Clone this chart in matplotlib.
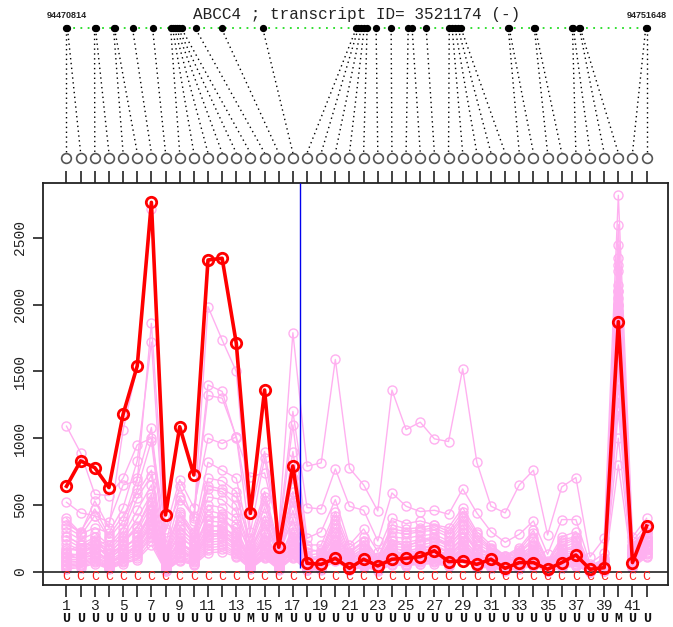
import matplotlib
matplotlib.use("Agg")
import matplotlib.pyplot as plt
import matplotlib.transforms as mtransforms

# ---------------- data ----------------
gene = "ABCC4"
transcript_id = "3521174"
strand = "(-)"
genome_start = 94470814
genome_end = 94751648

probe_index = list(range(1, 43))
probe_genome_pos = [
    94470814, 94471299, 94484395, 94484880, 94493610, 94494095, 94502826,
    94512527, 94521257, 94522227, 94523197, 94524167, 94525137, 94526592,
    94533383, 94545994, 94565880, 94610988, 94611958, 94613413, 94614868,
    94616323, 94620688, 94627964, 94636209, 94638149, 94644940, 94656095,
    94657551, 94659006, 94660461, 94661916, 94684712, 94685197, 94697323,
    94697808, 94715754, 94716239, 94719149, 94719634, 94751161, 94751648,
]
probe_type = ["U"] * 42
probe_type[13] = "M"
probe_type[15] = "M"
probe_type[39] = "M"
probe_class = ["C"] * 42

highlight_sample = [
    640, 830, 779, 630, 1179, 1541, 2767, 425, 1086, 724, 2335, 2348, 1711, 437,
    1361, 183, 792, 63, 55, 100, 25, 93, 43, 93, 100, 112, 157, 75, 80, 55,
    93, 25, 68, 68, 18, 68, 125, 18, 30, 1873, 68, 342,
]

other_samples = [
    [1090, 890, 580, 570, 700, 950, 1000, 320, 690, 480, 1000, 960, 1010, 430, 900, 320, 1790, 790, 815, 1590, 775, 650, 455, 1360, 1065, 1120, 995, 975, 1520, 820, 490, 440, 650, 760, 275, 635, 705, 110, 250, 2820, 260, 400],
    [520, 440, 420, 370, 650, 680, 1860, 300, 560, 400, 1400, 1350, 1000, 710, 740, 300, 1200, 480, 470, 770, 490, 460, 230, 590, 490, 450, 460, 430, 620, 440, 300, 220, 280, 380, 130, 390, 390, 60, 140, 2450, 230, 350],
    [400, 290, 530, 330, 1060, 1540, 2720, 200, 640, 380, 1985, 1736, 1500, 300, 850, 250, 1100, 250, 300, 540, 200, 320, 150, 400, 360, 380, 350, 330, 480, 300, 200, 120, 180, 310, 80, 260, 300, 40, 100, 2350, 200, 320],
    [380, 280, 330, 290, 480, 830, 1720, 150, 540, 420, 1320, 1300, 1010, 250, 600, 200, 900, 200, 200, 450, 180, 260, 100, 350, 320, 330, 350, 300, 450, 280, 180, 120, 160, 290, 60, 240, 260, 30, 80, 2250, 180, 300],
    [330, 270, 420, 250, 380, 700, 1080, 140, 450, 300, 820, 760, 700, 200, 530, 160, 700, 150, 160, 420, 140, 220, 90, 300, 280, 300, 310, 260, 400, 240, 160, 100, 140, 230, 50, 200, 240, 25, 70, 2100, 160, 280],
    [300, 240, 290, 200, 330, 620, 980, 120, 420, 260, 700, 680, 600, 180, 480, 150, 600, 120, 140, 360, 120, 200, 80, 260, 250, 270, 280, 230, 380, 210, 150, 90, 120, 200, 45, 180, 220, 20, 60, 2000, 150, 260],
    [270, 200, 260, 180, 300, 550, 720, 110, 380, 240, 620, 600, 500, 150, 420, 140, 520, 100, 120, 330, 100, 180, 70, 230, 220, 240, 260, 210, 350, 190, 130, 80, 110, 180, 40, 160, 200, 18, 55, 1950, 140, 240],
    [240, 180, 240, 160, 270, 460, 650, 100, 340, 220, 560, 540, 450, 140, 380, 130, 460, 90, 110, 300, 90, 160, 65, 210, 200, 220, 240, 190, 320, 170, 120, 75, 100, 160, 35, 150, 180, 15, 50, 1850, 130, 230],
    [210, 160, 220, 140, 240, 400, 580, 90, 300, 200, 500, 480, 400, 120, 340, 120, 400, 80, 100, 270, 80, 150, 60, 190, 180, 200, 220, 170, 290, 150, 110, 70, 90, 150, 30, 140, 160, 12, 45, 1800, 120, 220],
    [180, 150, 260, 120, 210, 330, 560, 80, 280, 170, 420, 400, 300, 110, 300, 90, 330, 70, 80, 240, 70, 130, 60, 170, 160, 170, 190, 140, 250, 130, 120, 60, 100, 140, 35, 120, 150, 15, 40, 1700, 140, 260],
    [160, 170, 180, 130, 250, 300, 500, 60, 250, 190, 390, 420, 280, 90, 280, 110, 280, 60, 70, 220, 60, 120, 50, 150, 140, 160, 170, 120, 230, 110, 100, 50, 90, 130, 30, 110, 130, 20, 50, 1600, 110, 240],
    [140, 120, 200, 100, 170, 260, 460, 70, 230, 140, 350, 330, 270, 80, 240, 80, 250, 50, 60, 200, 50, 110, 45, 160, 130, 150, 160, 130, 210, 100, 90, 45, 80, 120, 25, 100, 120, 10, 35, 1500, 100, 220],
    [120, 130, 150, 90, 190, 240, 430, 50, 200, 150, 330, 350, 240, 100, 220, 70, 230, 45, 55, 180, 45, 100, 40, 140, 120, 140, 150, 110, 200, 90, 85, 40, 70, 110, 20, 90, 110, 8, 30, 2600, 90, 200],
    [100, 110, 170, 80, 150, 220, 400, 40, 190, 120, 300, 310, 220, 70, 200, 60, 200, 40, 50, 170, 40, 90, 35, 130, 110, 130, 140, 100, 180, 80, 80, 35, 60, 100, 18, 80, 100, 5, 25, 1400, 80, 190],
    [90, 90, 140, 70, 130, 200, 380, 30, 170, 110, 280, 290, 200, 60, 180, 50, 180, 35, 45, 150, 35, 80, 30, 120, 100, 120, 130, 90, 170, 70, 70, 30, 55, 90, 15, 70, 90, 5, 20, 2300, 70, 180],
    [80, 100, 120, 60, 140, 180, 350, 25, 150, 100, 260, 270, 190, 50, 170, 45, 170, 30, 40, 140, 30, 70, 25, 110, 90, 110, 120, 80, 160, 65, 60, 25, 50, 80, 12, 60, 80, 4, 18, 1300, 60, 170],
    [70, 80, 110, 50, 120, 160, 320, 20, 140, 90, 240, 250, 170, 45, 150, 40, 160, 25, 35, 130, 25, 60, 20, 100, 80, 100, 110, 70, 150, 60, 55, 20, 45, 70, 10, 55, 70, 3, 15, 2100, 55, 160],
    [60, 70, 100, 40, 100, 150, 300, 15, 120, 80, 220, 230, 160, 40, 140, 35, 150, 20, 30, 120, 20, 55, 18, 90, 70, 90, 100, 60, 140, 50, 50, 18, 40, 60, 8, 50, 60, 2, 12, 1900, 50, 150],
    [50, 60, 90, 35, 90, 130, 280, 12, 110, 70, 200, 210, 140, 35, 130, 30, 130, 18, 25, 110, 18, 50, 15, 80, 60, 80, 90, 55, 130, 45, 45, 15, 35, 55, 6, 45, 55, 2, 10, 1200, 45, 140],
    [40, 50, 80, 30, 80, 120, 260, 10, 100, 60, 180, 190, 130, 30, 120, 25, 120, 15, 20, 100, 15, 45, 12, 70, 55, 70, 80, 50, 120, 40, 40, 12, 30, 50, 5, 40, 50, 1, 8, 1700, 40, 130],
    [30, 40, 70, 25, 70, 100, 230, 8, 90, 55, 160, 170, 120, 25, 110, 20, 110, 12, 18, 90, 12, 40, 10, 60, 50, 60, 70, 45, 110, 35, 35, 10, 25, 45, 4, 35, 45, 1, 6, 1000, 35, 120],
    [20, 30, 60, 20, 60, 90, 200, 5, 80, 50, 140, 150, 110, 20, 100, 15, 100, 10, 15, 80, 10, 35, 8, 50, 45, 55, 60, 40, 100, 30, 30, 8, 20, 40, 3, 30, 40, 1, 5, 800, 30, 110],
    [260, 210, 200, 230, 230, 340, 520, 130, 320, 230, 460, 430, 360, 160, 360, 170, 380, 110, 90, 280, 110, 170, 75, 240, 190, 230, 250, 200, 300, 160, 140, 85, 130, 190, 55, 170, 170, 30, 65, 2150, 170, 300],
    [150, 200, 140, 170, 160, 270, 420, 90, 210, 160, 380, 370, 330, 90, 260, 100, 300, 75, 65, 230, 85, 140, 55, 180, 150, 180, 200, 150, 260, 120, 100, 65, 110, 160, 40, 130, 140, 18, 45, 2000, 120, 250],
    [110, 140, 210, 110, 200, 230, 470, 60, 220, 130, 310, 300, 250, 75, 230, 85, 260, 55, 75, 190, 55, 105, 45, 150, 125, 145, 165, 115, 220, 95, 95, 40, 75, 120, 22, 95, 120, 9, 28, 1750, 95, 210],
    [130, 95, 160, 75, 110, 190, 360, 35, 160, 105, 270, 280, 210, 55, 190, 55, 210, 38, 48, 160, 38, 85, 32, 125, 95, 115, 125, 85, 175, 75, 65, 28, 52, 85, 14, 65, 85, 6, 22, 1550, 65, 185],
    [350, 300, 470, 270, 420, 590, 760, 170, 430, 280, 640, 620, 560, 210, 560, 180, 560, 170, 150, 390, 150, 230, 110, 320, 300, 310, 330, 280, 420, 260, 170, 110, 150, 250, 70, 220, 250, 35, 90, 2050, 190, 330],
]

# ---------------- layout ----------------
W, H = 673, 627
fig = plt.figure(figsize=(W / 100, H / 100), dpi=100)

ax_l, ax_r, ax_t, ax_b = 43, 668, 183, 585
ax = fig.add_axes([ax_l / W, 1 - ax_b / H, (ax_r - ax_l) / W, (ax_b - ax_t) / H])
ax_top = fig.add_axes([ax_l / W, 1 - ax_t / H, (ax_r - ax_l) / W, ax_t / H])

xlim = (-0.66, 43.51)
ylim = (-100, 2912)

mono = "Liberation Mono"
pink = "#FFB0F0"

# ---------------- main panel ----------------
for s in other_samples:
    ax.plot(probe_index, s, color=pink, lw=1.0, marker="o", ms=6.5,
            mfc="none", mec=pink, mew=1.0, zorder=2)

ax.axhline(0, color="#222222", lw=1.2, zorder=3)
ax.vlines(17.5, 25, ylim[1], color="#0000EE", lw=1.0, zorder=3)

ax.plot(probe_index, highlight_sample, color="#FF0000", lw=2.6, marker="o",
        ms=7.5, mfc="none", mec="#FF0000", mew=2.0, zorder=5)

for xi, c in zip(probe_index, probe_class):
    ax.text(xi, -42, c, color="#FF2020", fontsize=9.5, family=mono,
            ha="center", va="center", zorder=4)

ax.set_xlim(*xlim)
ax.set_ylim(*ylim)
ax.set_xticks(probe_index)
ax.set_xticklabels([str(i) if i % 2 == 1 else "" for i in probe_index],
                   family=mono, fontsize=10.5)
ax.set_yticks([0, 500, 1000, 1500, 2000, 2500])
ax.set_yticklabels(["0", "500", "1000", "1500", "2000", "2500"],
                   family=mono, fontsize=10.5, rotation=90, va="center")
ax.tick_params(axis="x", which="both", direction="out", length=8.5, width=1.2,
               top=True, bottom=True, labeltop=False, pad=1.5, colors="#222222")
ax.tick_params(axis="y", direction="out", length=7.5, width=1.2, pad=4,
               colors="#222222")
for sp in ax.spines.values():
    sp.set_linewidth(1.3)
    sp.set_color("#222222")

trans = mtransforms.blended_transform_factory(ax.transData, fig.transFigure)
for xi, t in zip(probe_index, probe_type):
    fig.text(xi, 1 - 619 / H, t, transform=trans, ha="center", va="center",
             fontsize=9.5, family=mono, weight="bold", color="#111111")

# ---------------- top panel (genomic positions) ----------------
ax_top.set_xlim(*xlim)
ax_top.set_ylim(ax_t, 0)
ax_top.axis("off")

span = genome_end - genome_start
gx = [1 + 41 * (g - genome_start) / span for g in probe_genome_pos]

ax_top.plot([gx[0], gx[-1]], [28, 28], color="#22DD22", lw=1.3,
            linestyle=(0, (1, 3)))
for g, xi in zip(gx, probe_index):
    ax_top.plot([g, xi], [29, 153], color="black", lw=1.0,
                linestyle=(0, (1, 2.5)))
ax_top.plot(gx, [28] * len(gx), "o", color="black", ms=4.2, zorder=4)
ax_top.plot(probe_index, [158] * 42, "o", mfc="none", mec="#555555",
            ms=7, mew=1.2)

ax_top.text(1, 15, str(genome_start), ha="center", va="center",
            fontsize=6.5, family="Liberation Sans", weight="bold", color="#222222")
ax_top.text(42, 15, str(genome_end), ha="center", va="center",
            fontsize=6.5, family="Liberation Sans", weight="bold", color="#222222")
fig.text(357 / W, 1 - 14 / H,
         f"{gene} ; transcript ID= {transcript_id} {strand}",
         ha="center", va="center", fontsize=11.5, family=mono, color="#222222")

fig.savefig("out.png", dpi=100)
